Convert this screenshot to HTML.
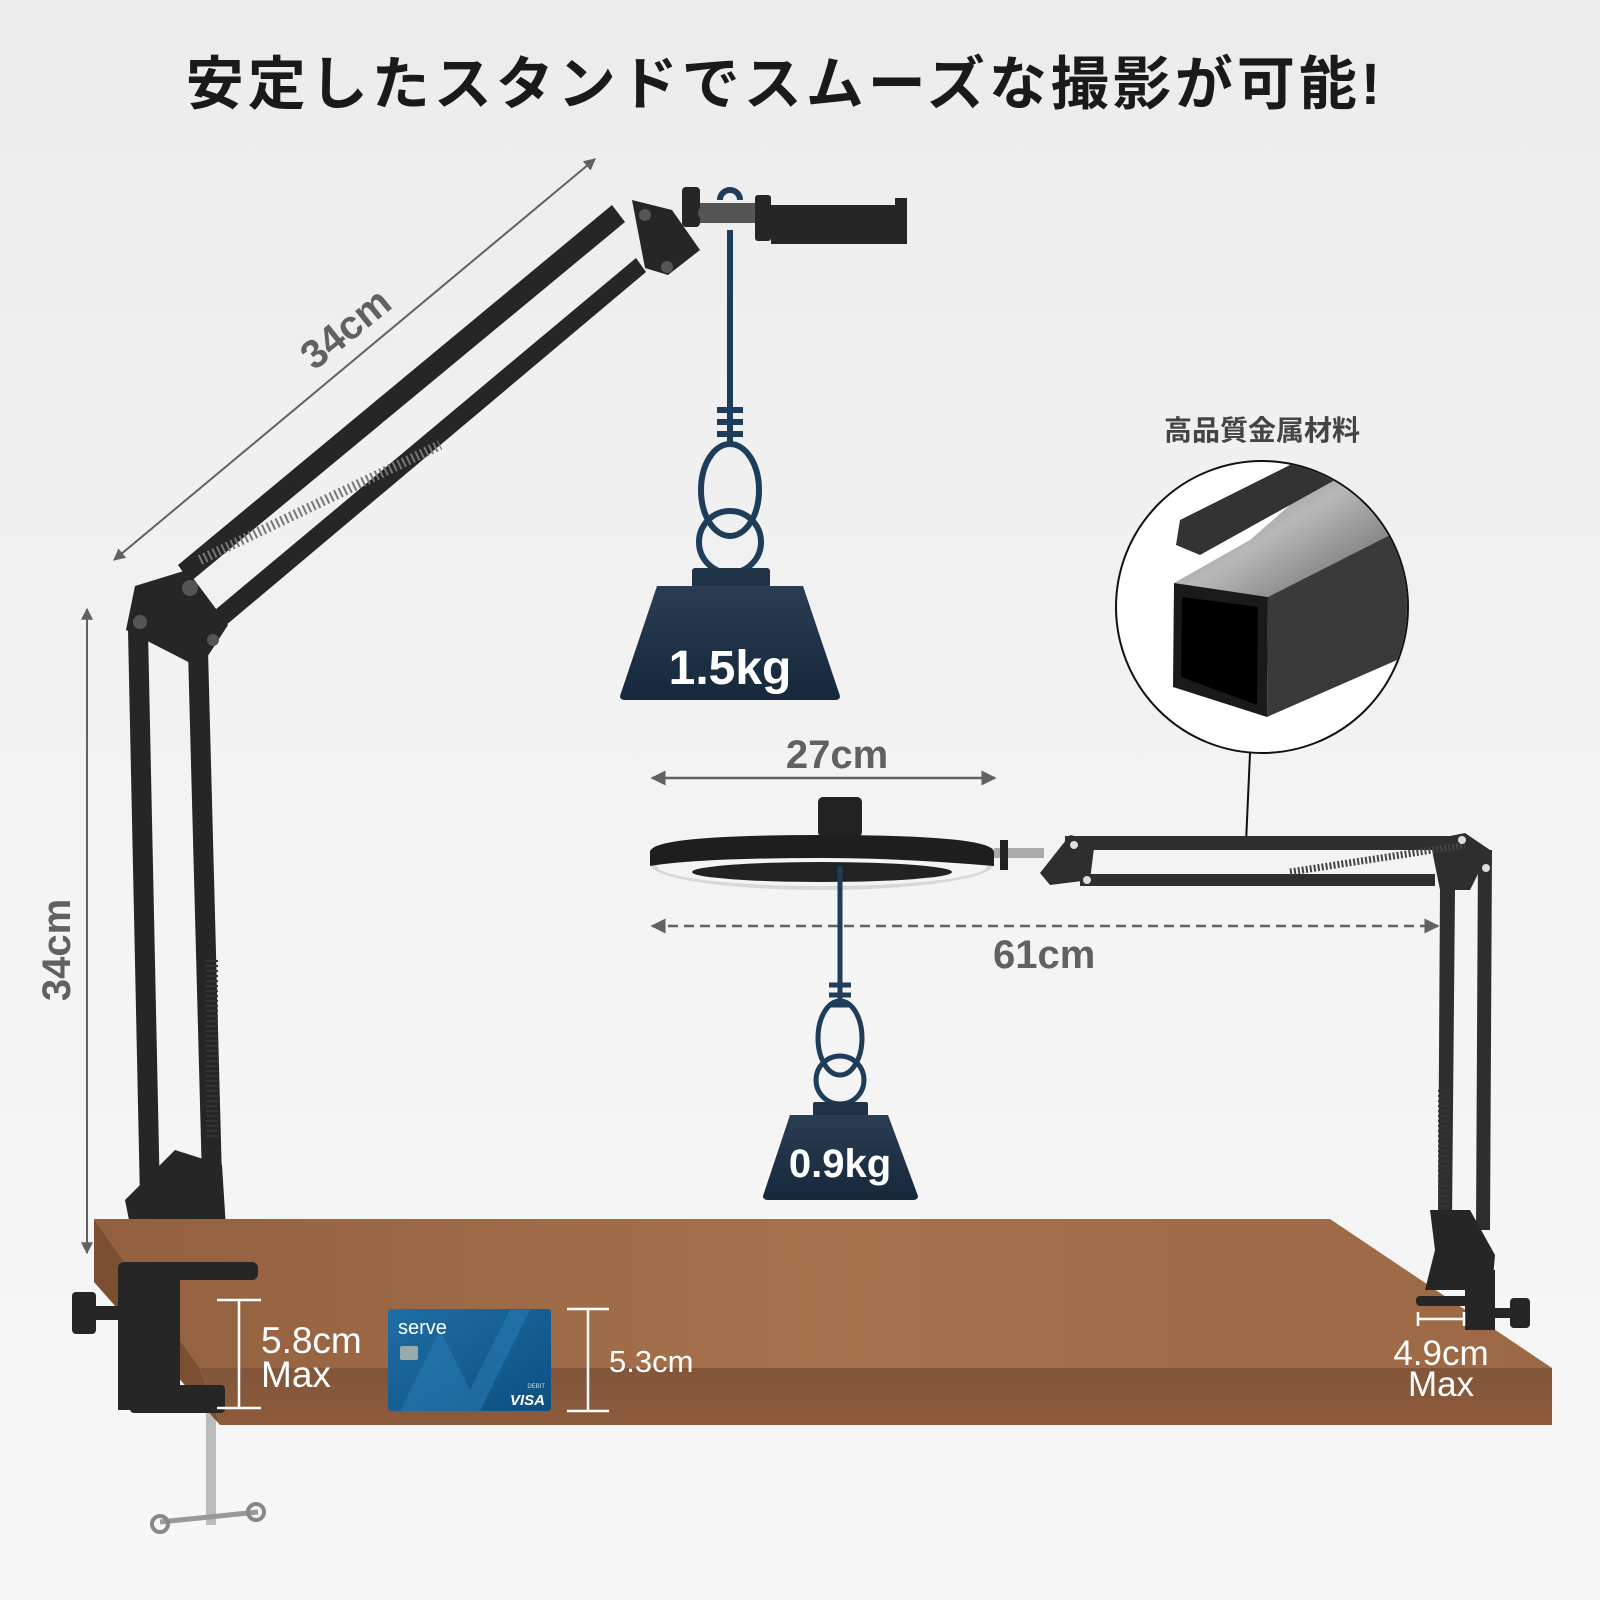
<!DOCTYPE html>
<html><head><meta charset="utf-8"><style>
html,body{margin:0;padding:0;width:1600px;height:1600px;overflow:hidden}
svg{display:block}
text{font-family:"Liberation Sans","Noto Sans CJK JP",sans-serif}
</style></head><body>
<svg width="1600" height="1600" viewBox="0 0 1600 1600" xmlns="http://www.w3.org/2000/svg">
<defs>
<linearGradient id="bg" x1="0" y1="0" x2="0" y2="1"><stop offset="0" stop-color="#ececec"/><stop offset="0.5" stop-color="#f3f3f3"/><stop offset="1" stop-color="#f7f7f7"/></linearGradient>
<linearGradient id="wt" x1="0" y1="0" x2="0" y2="1"><stop offset="0" stop-color="#2a3d52"/><stop offset="1" stop-color="#16283a"/></linearGradient>
<linearGradient id="top" x1="0" y1="0" x2="1" y2="0"><stop offset="0" stop-color="#93603f"/><stop offset="0.5" stop-color="#a6724d"/><stop offset="1" stop-color="#9c6845"/></linearGradient>
<linearGradient id="front" x1="0" y1="0" x2="0" y2="1"><stop offset="0" stop-color="#82553a"/><stop offset="1" stop-color="#8d5b3b"/></linearGradient>
<linearGradient id="metal" x1="0" y1="0" x2="1" y2="1"><stop offset="0" stop-color="#6a6a6a"/><stop offset="0.5" stop-color="#b8b8b8"/><stop offset="1" stop-color="#555"/></linearGradient>
<linearGradient id="card" x1="0" y1="0" x2="1" y2="1"><stop offset="0" stop-color="#1f6ea6"/><stop offset="1" stop-color="#0d4f80"/></linearGradient>
<clipPath id="cc"><circle cx="1262" cy="607" r="145"/></clipPath>
<marker id="ah" viewBox="0 0 10 10" refX="9" refY="5" markerWidth="6" markerHeight="6" orient="auto-start-reverse"><path d="M0,0L10,5L0,10z" fill="#616161"/></marker>
</defs>
<rect width="1600" height="1600" fill="url(#bg)"/>

<text x="785" y="104" font-size="58" font-weight="bold" text-anchor="middle" fill="#1a1a1a" letter-spacing="4">安定したスタンドでスムーズな撮影が可能!</text>

<line x1="114" y1="560" x2="595" y2="159" stroke="#616161" stroke-width="2" marker-start="url(#ah)" marker-end="url(#ah)"/>
<text x="346" y="342" font-size="40" font-weight="bold" fill="#616161" text-anchor="middle" transform="rotate(-39 346 329)">34cm</text>
<line x1="87" y1="609" x2="87" y2="1253" stroke="#616161" stroke-width="2" marker-start="url(#ah)" marker-end="url(#ah)"/>
<text x="56" y="950" font-size="40" font-weight="bold" fill="#616161" text-anchor="middle" transform="rotate(-90 56 950)" dy="14">34cm</text>

<g fill="#262626">
<polygon points="178,565 612,205 625,222 190,582"/>
<polygon points="215,610 636,258 646,272 225,626"/>
<polygon points="128,630 148,630 160,1200 140,1200"/>
<polygon points="188,650 208,650 222,1180 202,1180"/>
<polygon points="135,586 187,570 228,625 200,668 126,630"/>
<polygon points="632,200 672,210 700,250 668,275 645,268"/>
<rect x="682" y="187" width="18" height="40" rx="4"/>
<rect x="700" y="203" width="60" height="20" fill="#555"/>
<rect x="755" y="195" width="16" height="46" rx="3"/>
<polygon points="771,205 895,205 895,198 907,198 907,244 771,244"/>
<polygon points="125,1200 175,1150 222,1165 228,1260 140,1275"/>
</g>
<path d="M200 560 L440 445" stroke="#777" stroke-width="10" stroke-dasharray="2 3"/>
<path d="M212 960 L212 1140" stroke="#333" stroke-width="12" stroke-dasharray="2 3"/>
<g fill="#555"><circle cx="190" cy="588" r="8"/><circle cx="140" cy="622" r="7"/><circle cx="213" cy="640" r="6"/><circle cx="645" cy="215" r="6"/><circle cx="667" cy="267" r="6"/><circle cx="705" cy="213" r="7"/></g>
<rect x="206" y="1405" width="10" height="120" fill="#bbb"/>
<line x1="160" y1="1522" x2="258" y2="1512" stroke="#999" stroke-width="5"/>
<circle cx="160" cy="1524" r="8" fill="none" stroke="#888" stroke-width="4"/>
<circle cx="256" cy="1512" r="8" fill="none" stroke="#888" stroke-width="4"/>

<g stroke="#1e3d5a" fill="none" stroke-width="6">
<path d="M730 230 L730 444"/>
<path d="M720 200 a10 10 0 0 1 20 0"/>
<path d="M717 410h26M717 422h26M717 434h26"/>
<ellipse cx="730" cy="490" rx="29" ry="46"/>
<circle cx="730" cy="542" r="31"/>
</g>
<rect x="692" y="568" width="78" height="20" rx="3" fill="#1f3347"/>
<path d="M657 586 L803 586 L840 696 Q840 700 835 700 L625 700 Q620 700 620 696 Z" fill="url(#wt)"/>
<text x="730" y="684" font-size="48" font-weight="bold" fill="#fff" text-anchor="middle">1.5kg</text>

<text x="1262" y="440" font-size="28" font-weight="bold" fill="#444" text-anchor="middle">高品質金属材料</text>
<circle cx="1262" cy="607" r="146" fill="#fff" stroke="#111" stroke-width="2"/>
<g clip-path="url(#cc)">
<polygon points="1174,583 1250,540 1330,470 1420,440 1420,540 1268,597" fill="url(#metal)"/>
<polygon points="1176,545 1180,520 1340,440 1380,455 1200,555" fill="#333"/>
<polygon points="1268,597 1420,520 1420,650 1267,717" fill="#3a3a3a"/>
<polygon points="1174,583 1268,597 1267,717 1173,687" fill="#1a1a1a"/>
<polygon points="1182,597 1258,607 1257,705 1181,677" fill="#000"/>
</g>
<line x1="1250" y1="753" x2="1246" y2="843" stroke="#111" stroke-width="2"/>

<line x1="652" y1="778" x2="995" y2="778" stroke="#616161" stroke-width="2.5" marker-start="url(#ah)" marker-end="url(#ah)"/>
<text x="837" y="768" font-size="40" font-weight="bold" fill="#616161" text-anchor="middle">27cm</text>

<rect x="818" y="797" width="44" height="40" rx="5" fill="#222"/>
<ellipse cx="822" cy="864" rx="172" ry="26" fill="#d8d8d8"/>
<ellipse cx="822" cy="866" rx="165" ry="20" fill="#f4f4f4"/>
<path d="M650 852 Q650 835 822 835 Q994 835 994 852 L994 866 Q900 858 822 858 Q700 858 650 866 Z" fill="#1e1e1e"/>
<ellipse cx="822" cy="872" rx="130" ry="10" fill="#222"/>
<rect x="994" y="848" width="50" height="10" fill="#aaa"/>
<rect x="1000" y="840" width="8" height="30" fill="#222"/>
<g fill="#2e2e2e">
<polygon points="1040,873 1070,835 1095,840 1090,880 1050,885"/>
<rect x="1065" y="836" width="395" height="14"/>
<rect x="1080" y="874" width="355" height="12"/>
<polygon points="1430,840 1465,833 1490,850 1470,890 1440,890"/>
<polygon points="1440,890 1455,890 1452,1220 1438,1220"/>
<polygon points="1478,850 1492,850 1490,1230 1476,1230"/>
</g>
<path d="M1290 872 L1465 845" stroke="#444" stroke-width="7" stroke-dasharray="2 2"/>
<path d="M1444 1090 L1444 1210" stroke="#333" stroke-width="12" stroke-dasharray="2 3"/>
<g fill="#ddd"><circle cx="1462" cy="840" r="4"/><circle cx="1486" cy="868" r="4"/><circle cx="1087" cy="880" r="4"/><circle cx="1074" cy="845" r="4"/></g>

<line x1="652" y1="926" x2="1438" y2="926" stroke="#616161" stroke-width="2.5" stroke-dasharray="10 6" marker-start="url(#ah)" marker-end="url(#ah)"/>
<text x="993" y="968" font-size="40" font-weight="bold" fill="#616161">61cm</text>

<g stroke="#1e3d5a" fill="none" stroke-width="5">
<path d="M840 866 L840 1000"/>
<path d="M829 985h22M829 995h22M829 1005h22"/>
<ellipse cx="840" cy="1038" rx="22" ry="37"/>
<circle cx="840" cy="1080" r="24"/>
</g>
<rect x="813" y="1102" width="55" height="15" rx="2" fill="#1f3347"/>
<path d="M790 1115 L888 1115 L918 1196 Q918 1200 913 1200 L768 1200 Q763 1200 763 1196 Z" fill="url(#wt)"/>
<text x="840" y="1177" font-size="40" font-weight="bold" fill="#fff" text-anchor="middle">0.9kg</text>

<!-- desk -->
<polygon points="94,1219 1330,1219 1552,1368 200,1368" fill="url(#top)"/>
<polygon points="200,1368 1552,1368 1552,1425 220,1425" fill="url(#front)"/>
<polygon points="94,1219 200,1368 220,1425 94,1282" fill="#7c4f33"/>

<!-- right clamp -->
<g fill="#262626">
<polygon points="1430,1210 1470,1210 1495,1255 1492,1290 1425,1290 1435,1250"/>
<rect x="1465" y="1270" width="30" height="60"/>
<rect x="1416" y="1296" width="75" height="10" rx="4"/>
<rect x="1495" y="1308" width="16" height="10"/>
<rect x="1510" y="1298" width="20" height="30" rx="4"/>
</g>

<!-- left clamp -->
<g fill="#262626">
<rect x="118" y="1268" width="62" height="142"/>
<rect x="118" y="1262" width="140" height="18" rx="6"/>
<rect x="130" y="1385" width="95" height="28" rx="4"/>
<rect x="72" y="1292" width="24" height="42" rx="4"/>
<rect x="94" y="1306" width="26" height="14"/>
</g>

<g stroke="#fff" stroke-width="2.5"><path d="M217 1300h44M239 1300v108M217 1408h44"/><path d="M567 1309h42M588 1309v102M567 1411h42"/><path d="M1418 1312v14M1464 1312v14M1418 1319h46"/></g>
<text x="261" y="1353" font-size="37" fill="#fff">5.8cm</text>
<text x="261" y="1387" font-size="37" fill="#fff">Max</text>
<text x="609" y="1372" font-size="31" fill="#fff">5.3cm</text>
<text x="1441" y="1365" font-size="35" fill="#fff" text-anchor="middle">4.9cm</text>
<text x="1441" y="1396" font-size="35" fill="#fff" text-anchor="middle">Max</text>

<rect x="388" y="1309" width="163" height="102" rx="3" fill="url(#card)"/>
<path d="M400 1411 L440 1330 L470 1390 L510 1310 L530 1310 L480 1411 Z" fill="#2a7db8" opacity="0.5"/>
<text x="398" y="1334" font-size="20" fill="#fff">serve</text>
<rect x="400" y="1346" width="18" height="14" rx="2" fill="#9aa"/>
<text x="545" y="1405" font-size="15" font-weight="bold" font-style="italic" fill="#fff" text-anchor="end">VISA</text>
<text x="545" y="1388" font-size="6" fill="#cde" text-anchor="end">DEBIT</text>
</svg>
</body></html>
